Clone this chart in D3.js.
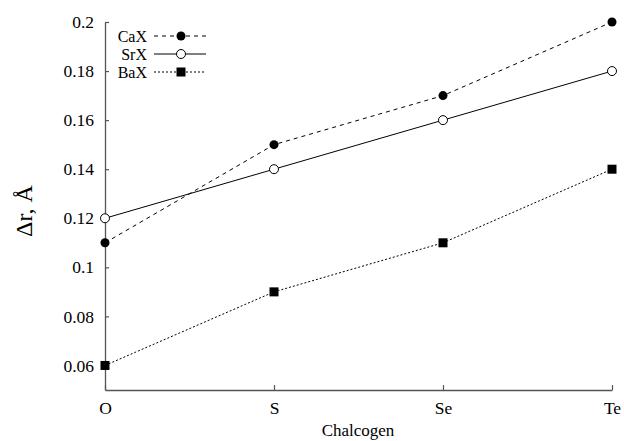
<!DOCTYPE html>
<html lang="en">
<head>
<meta charset="UTF-8">
<title>Δr vs Chalcogen</title>
<script src="https://d3js.org/d3.v7.min.js"></script>
<style>
    body { margin: 0; background: #fff; }
</style>
</head>
<body>
<div id="chart"></div>
<script>
    // data
    const chalcogens = ['O', 'S', 'Se', 'Te'];
    const caX = [0.11, 0.15, 0.17, 0.20];
    const srX = [0.12, 0.14, 0.16, 0.18];
    const baX = [0.06, 0.09, 0.11, 0.14];
    const yTicks = [0.06, 0.08, 0.1, 0.12, 0.14, 0.16, 0.18, 0.2];

    const W = 624, H = 441;
    const FONT = '"Liberation Serif", "Times New Roman", "DejaVu Serif", serif';
    const svg = d3.select('#chart').append('svg')
        .attr('width', W).attr('height', H)
        .attr('font-family', FONT);

    const x = d3.scalePoint().domain(chalcogens).range([105, 612]);
    const y = d3.scaleLinear().domain([0.05, 0.2]).range([390, 22]);

    const axisColor = '#555';

    // y axis
    const gy = svg.append('g').attr('transform', 'translate(105,0)')
        .call(d3.axisLeft(y).tickValues(yTicks).tickSizeInner(-4).tickSizeOuter(0)
            .tickPadding(11).tickFormat(d => d3.format('~g')(d)));
    gy.attr('font-family', FONT).attr('font-size', 17.5);
    gy.select('.domain').attr('stroke', axisColor).attr('stroke-width', 1.3);
    gy.selectAll('.tick line').attr('stroke', axisColor).attr('stroke-width', 1.2);

    // x axis
    const gx = svg.append('g').attr('transform', 'translate(0,390)')
        .call(d3.axisBottom(x).tickSizeInner(-5).tickSizeOuter(0).tickPadding(12));
    gx.attr('font-family', FONT).attr('font-size', 17.5);
    gx.select('.domain').attr('stroke', axisColor).attr('stroke-width', 1.3);
    gx.selectAll('.tick line').attr('stroke', axisColor).attr('stroke-width', 1.2);

    svg.append('text')
        .attr('x', 358).attr('y', 436)
        .attr('text-anchor', 'middle')
        .attr('font-size', 17)
        .text('Chalcogen');

    svg.append('text')
        .attr('transform', 'translate(32,211) rotate(-90)')
        .attr('text-anchor', 'middle')
        .attr('font-size', 24)
        .text('Δr, Å');

    const series = [
        { name: 'CaX', values: caX, dash: '4,4', marker: 'dot' },
        { name: 'SrX', values: srX, dash: null, marker: 'ring' },
        { name: 'BaX', values: baX, dash: '2,2', marker: 'square' }
    ];

    const line = d3.line()
        .x((d, i) => x(chalcogens[i]))
        .y(d => y(d));

    function drawMarker(g, type, cx, cy) {
        if (type === 'square') {
            g.append('rect').attr('x', cx - 4.5).attr('y', cy - 4.5)
                .attr('width', 9).attr('height', 9).attr('fill', '#000');
        } else if (type === 'ring') {
            g.append('circle').attr('cx', cx).attr('cy', cy).attr('r', 4.5)
                .attr('fill', '#fff').attr('stroke', '#000').attr('stroke-width', 1);
        } else {
            g.append('circle').attr('cx', cx).attr('cy', cy).attr('r', 4.5)
                .attr('fill', '#000');
        }
    }

    series.forEach(s => {
        svg.append('path')
            .datum(s.values)
            .attr('d', line)
            .attr('fill', 'none')
            .attr('stroke', '#000')
            .attr('stroke-width', 1)
            .attr('stroke-dasharray', s.dash);
        const g = svg.append('g');
        s.values.forEach((v, i) => drawMarker(g, s.marker, x(chalcogens[i]), y(v)));
    });

    // legend
    const legend = svg.append('g');
    series.forEach((s, i) => {
        const ly = 36 + i * 18;
        legend.append('text')
            .attr('x', 147).attr('y', ly + 5.5)
            .attr('text-anchor', 'end')
            .attr('font-size', 16)
            .text(s.name);
        legend.append('line')
            .attr('x1', 154).attr('x2', 206)
            .attr('y1', ly).attr('y2', ly)
            .attr('stroke', '#000').attr('stroke-width', 1)
            .attr('stroke-dasharray', s.dash);
        drawMarker(legend, s.marker, 181, ly);
    });
</script>
</body>
</html>
